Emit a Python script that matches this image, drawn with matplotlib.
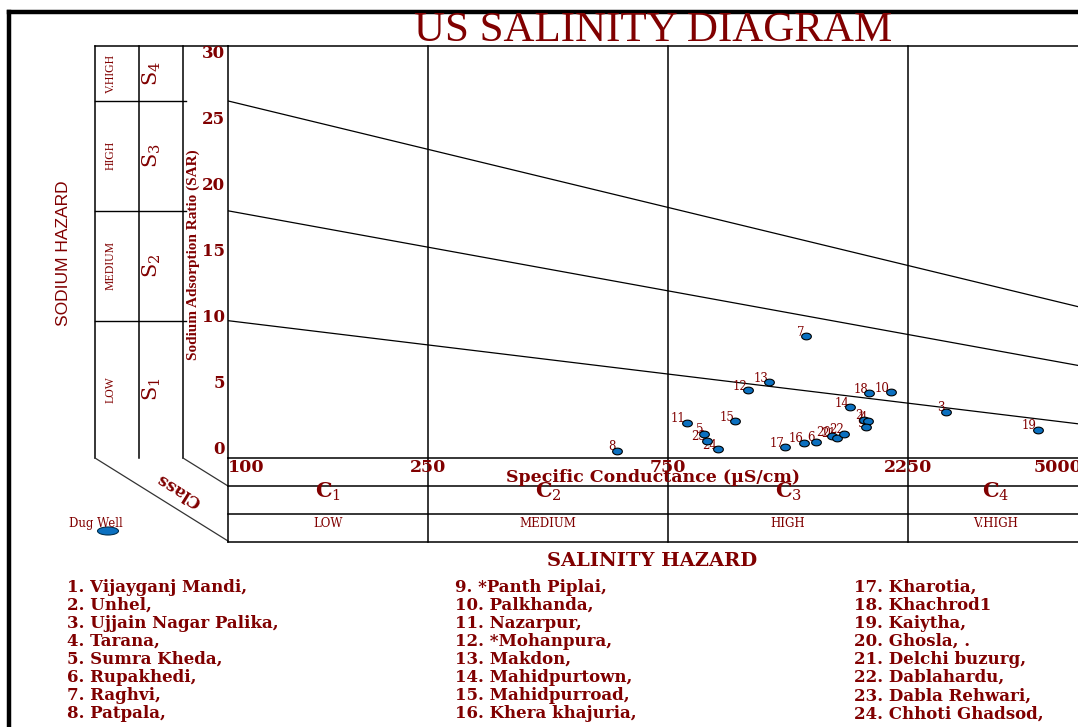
# Diagrama de salinidad de EE.UU. (Richards) para 24 pozos
import numpy as np
import matplotlib.pyplot as plt
from matplotlib.path import Path
from matplotlib.patches import Ellipse

plt.rcParams["mathtext.fontset"] = "dejavuserif"

# Datos
sitios = ["Vijayganj Mandi,", "Unhel,", "Ujjain Nagar Palika,", "Tarana,",
          "Sumra Kheda,", "Rupakhedi,", "Raghvi,", "Patpala,",
          "*Panth Piplai,", "Palkhanda,", "Nazarpur,", "*Mohanpura,",
          "Makdon,", "Mahidpurtown,", "Mahidpurroad,", "Khera khajuria,",
          "Kharotia,", "Khachrod1", "Kaiytha,", "Ghosla, .",
          "Delchi buzurg,", "Dablahardu,", "Dabla Rehwari,", "Chhoti Ghadsod,"]

# conductividad especifica (uS/cm) y SAR de cada pozo
ec = [1855, 1838, 2672, 1872, 884, 1474, 1408, 593, 1855, 2076, 817, 1082,
      1191, 1727, 1019, 1397, 1281, 1884, 4071, 1591, 1627, 1681, 895, 944]
sar = [2.66, 2.77, 3.37, 2.67, 1.75, 1.17, 8.88, 0.53, 2.24, 4.78, 2.57, 4.95,
       5.51, 3.71, 2.69, 1.11, 0.80, 4.72, 2.04, 1.60, 1.48, 1.78, 1.26, 0.63]

# limites de las clases
ec_clases = [100, 250, 750, 2250, 5000]
sar_ticks = [0, 5, 10, 15, 20, 25, 30]
sar_clases = [0, 10, 18, 26, 30]
nombres_c = ["LOW", "MEDIUM", "HIGH", "V.HIGH"]
nombres_s = ["LOW", "MEDIUM", "HIGH", "V.HIGH"]

# rectas de separacion S1/S2, S2/S3, S3/S4 (extremos en EC = 100 y 5000)
ec_rectas = [100, 5000]
sar_s1s2 = [10.0, 2.45]
sar_s2s3 = [18.0, 6.68]
sar_s3s4 = [26.0, 10.94]

rojo = "#800000"
azul = "#0b70c0"

fig = plt.figure(figsize=(10.78, 7.27), dpi=100)

# eje de fondo en pixeles para el marco
bg = fig.add_axes([0, 0, 1, 1])
bg.set_xlim(0, 1078)
bg.set_ylim(727, 0)
bg.axis("off")

# marco exterior
bg.plot([9, 9], [12, 727], color="black", lw=3.2)
bg.plot([9, 1078], [12, 12], color="black", lw=3.2)

# columnas de la izquierda
for x in [95, 139, 183]:
    bg.plot([x, x], [46, 458], color="black", lw=1.1)
bg.plot([95, 228], [46, 46], color="black", lw=1.1)
bg.plot([95, 228], [458, 541], color="#333333", lw=0.9)
bg.plot([183, 228], [458, 486], color="#333333", lw=0.9)

# cajas de abajo
for y in [486, 514, 542]:
    bg.plot([228, 1078], [y, y], color="black", lw=1.1)
bg.plot([228, 228], [458, 542], color="black", lw=1.1)

bg.text(653, 41, "US SALINITY DIAGRAM", color=rojo, fontsize=31,
        family="Liberation Serif", ha="center", va="baseline")
bg.text(64, 253, "SODIUM HAZARD", color=rojo, fontsize=12.5, rotation=90,
        family="Liberation Sans", ha="center", va="center")
bg.text(193, 255, "Sodium Adsorption Ratio (SAR)", color=rojo, fontsize=11,
        rotation=90, family="Liberation Serif", weight="bold", ha="center", va="center")
bg.text(179, 490, "Class", color=rojo, fontsize=12, rotation=148,
        family="DejaVu Serif", weight="bold", ha="center", va="center")
bg.text(96, 523, "Dug Well", color=rojo, fontsize=8.5, family="DejaVu Serif",
        ha="center", va="center")
bg.add_patch(Ellipse((108, 531), 21, 8, facecolor=azul, edgecolor="#003050", lw=0.8))
bg.text(652, 561, "SALINITY HAZARD", color=rojo, fontsize=14,
        family="DejaVu Serif", weight="bold", ha="center", va="center")

# lista de sitios en tres columnas
col_x = [67, 455, 854]
for i, nombre in enumerate(sitios):
    bg.text(col_x[i // 8], 587 + (i % 8) * 18.1, f"{i + 1}. {nombre}", color=rojo,
            fontsize=12, family="DejaVu Serif", weight="bold", va="center")

# grafico principal
ax = fig.add_axes([228 / 1078, (727 - 458) / 727, 850 / 1078, 412 / 727])
ax.set_xscale("log")
ax.set_xlim(100, 10 ** (2 + 850 / 503))
ax.set_ylim(0, 30)
ax.set_xticks([])
ax.set_yticks([])
ax.minorticks_off()
ax.patch.set_alpha(0)
ax.spines["right"].set_visible(False)
for s in ["left", "top", "bottom"]:
    ax.spines[s].set_linewidth(1.1)

for sr in [sar_s1s2, sar_s2s3, sar_s3s4]:
    ax.plot(ec_rectas, sr, color="black", lw=0.9)

# lineas verticales de clase de salinidad, bajan hasta las cajas
for v in ec_clases[1:-1]:
    ax.plot([v, v], [-0.204, 1], color="black", lw=1.1,
            transform=ax.get_xaxis_transform(), clip_on=False)

# divisiones de clase de sodio en las columnas
for s in sar_clases[1:-1]:
    ax.plot([-0.1565, -0.0494], [s, s], color="black", lw=1.0,
            transform=ax.get_yaxis_transform(), clip_on=False)

# etiquetas de las columnas de sodio
for k in range(4):
    medio = (sar_clases[k] + sar_clases[k + 1]) / 2
    ax.text(-0.1376, medio, nombres_s[k], color=rojo, fontsize=8.5, rotation=90,
            family="Liberation Serif", ha="center", va="center",
            transform=ax.get_yaxis_transform())
    ax.text(-0.0894, medio, f"$\\mathrm{{S}}_{k + 1}$", color=rojo, fontsize=15,
            rotation=90, ha="center", va="center", transform=ax.get_yaxis_transform())

# etiquetas del eje y
for v in sar_ticks:
    ax.annotate(str(v), xy=(0, v), xycoords=("axes fraction", "data"),
                xytext=(-3, 8 - 0.533 * v), textcoords="offset pixels",
                ha="right", va="center", color=rojo, fontsize=12,
                family="DejaVu Serif", weight="bold")

# etiquetas del eje x
for v in ec_clases:
    alin = "center"
    if v == ec_clases[0]:
        alin = "left"
    if v == ec_clases[-1]:
        alin = "right"
    ax.annotate(str(v), xy=(v, 0), xycoords=("data", "axes fraction"),
                xytext=(0, -9), textcoords="offset pixels", ha=alin, va="center",
                color=rojo, fontsize=12.5, family="DejaVu Serif", weight="bold",
                annotation_clip=False)

ax.text(0.5, -0.0485, "Specific Conductance (\u00b5S/cm)", color=rojo, fontsize=12.5,
        family="DejaVu Serif", weight="bold", ha="center", va="center",
        transform=ax.transAxes)

# clases C1..C4
for k in range(4):
    medio = np.sqrt(ec_clases[k] * ec_clases[k + 1])
    ax.text(medio, -0.083, f"$\\mathbf{{C}}_{k + 1}$", color=rojo, fontsize=15,
            ha="center", va="center", transform=ax.get_xaxis_transform())
    ax.text(medio, -0.160, nombres_c[k], color=rojo, fontsize=8.5,
            family="DejaVu Serif", ha="center", va="center",
            transform=ax.get_xaxis_transform())

# puntos de los pozos (elipse)
t = np.linspace(0, 2 * np.pi, 40)
elipse = Path(np.column_stack([1.45 * np.cos(t), np.sin(t)]))
ax.plot(ec, sar, linestyle="none", marker=elipse, markersize=7,
        markerfacecolor=azul, markeredgecolor="black", markeredgewidth=0.8,
        clip_on=False, zorder=5)
for i in range(len(ec)):
    ax.annotate(str(i + 1), xy=(ec[i], sar[i]), xytext=(-1, 4),
                textcoords="offset pixels", ha="right", va="center",
                color=rojo, fontsize=8.5, family="DejaVu Serif", zorder=4)

fig.savefig("out.png", dpi=100)
